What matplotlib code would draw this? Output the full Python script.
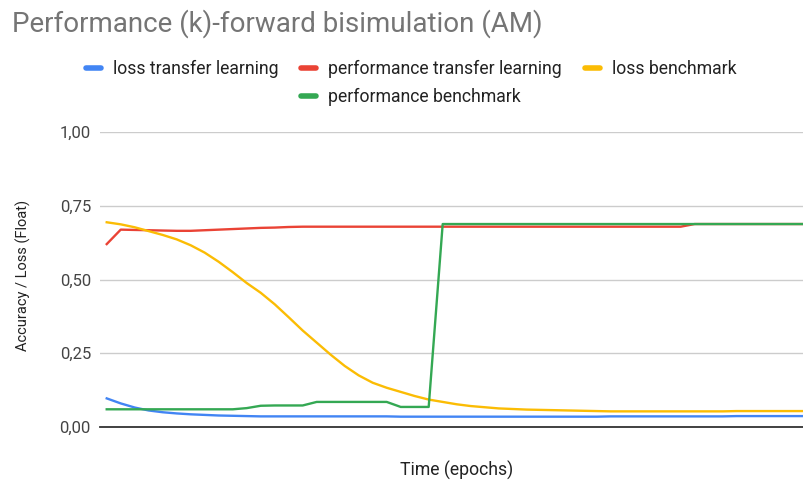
import matplotlib.pyplot as plt
from matplotlib.lines import Line2D
from matplotlib.ticker import FuncFormatter

plt.rcParams["font.family"] = ["Roboto", "DejaVu Sans"]

# values, one per epoch
loss_transfer = [0.097, 0.080, 0.066, 0.056, 0.050, 0.046, 0.043, 0.041, 0.039, 0.038,
                 0.037, 0.036, 0.036, 0.036, 0.036, 0.036, 0.036, 0.036, 0.036, 0.036,
                 0.036, 0.035, 0.035, 0.035, 0.035, 0.035, 0.035, 0.035, 0.035, 0.035,
                 0.035, 0.035, 0.035, 0.035, 0.035, 0.035, 0.036, 0.036, 0.036, 0.036,
                 0.036, 0.036, 0.036, 0.036, 0.036, 0.037, 0.037, 0.037, 0.037, 0.037,
                 0.037]
perf_transfer = [0.620, 0.669, 0.668, 0.667, 0.666, 0.665, 0.665, 0.667, 0.669, 0.671,
                 0.673, 0.675, 0.676, 0.678, 0.679, 0.679, 0.679, 0.679, 0.679, 0.679,
                 0.679, 0.679, 0.679, 0.679, 0.679, 0.679, 0.679, 0.679, 0.679, 0.679,
                 0.679, 0.679, 0.679, 0.679, 0.679, 0.679, 0.679, 0.679, 0.679, 0.679,
                 0.679, 0.679, 0.688, 0.688, 0.688, 0.688, 0.688, 0.688, 0.688, 0.688,
                 0.688]
loss_bench = [0.694, 0.687, 0.677, 0.664, 0.651, 0.636, 0.616, 0.591, 0.560, 0.525,
              0.488, 0.455, 0.416, 0.372, 0.327, 0.286, 0.245, 0.207, 0.175, 0.150,
              0.133, 0.119, 0.105, 0.093, 0.085, 0.077, 0.071, 0.067, 0.063, 0.061,
              0.059, 0.058, 0.057, 0.056, 0.055, 0.054, 0.053, 0.053, 0.053, 0.053,
              0.053, 0.053, 0.053, 0.053, 0.053, 0.054, 0.054, 0.054, 0.054, 0.054,
              0.054]
perf_bench = [0.060, 0.060, 0.060, 0.060, 0.060, 0.060, 0.060, 0.060, 0.060, 0.060,
              0.064, 0.072, 0.073, 0.073, 0.073, 0.085, 0.085, 0.085, 0.085, 0.085,
              0.085, 0.068, 0.068, 0.068, 0.688, 0.688, 0.688, 0.688, 0.688, 0.688,
              0.688, 0.688, 0.688, 0.688, 0.688, 0.688, 0.688, 0.688, 0.688, 0.688,
              0.688, 0.688, 0.688, 0.688, 0.688, 0.688, 0.688, 0.688, 0.688, 0.688,
              0.688]
epochs = list(range(len(loss_transfer)))

series = [
    ("loss transfer learning", loss_transfer, "#4285F4"),
    ("performance transfer learning", perf_transfer, "#EA4335"),
    ("loss benchmark", loss_bench, "#FBBC04"),
    ("performance benchmark", perf_bench, "#34A853"),
]

fig = plt.figure(figsize=(8.04, 4.87), dpi=100)
ax = fig.add_axes([100 / 804, 60 / 487, 704 / 804, 295 / 487])

for name, vals, col in series:
    ax.plot(epochs, vals, color=col, linewidth=1.7, label=name, solid_joinstyle="round")

ax.set_xlim(-0.48, 49.81)
ax.set_ylim(0, 1)
ax.set_yticks([0, 0.25, 0.5, 0.75, 1.0])
ax.yaxis.set_major_formatter(FuncFormatter(lambda v, p: f"{v:.2f}".replace(".", ",")))
ax.set_xticks([])
ax.grid(axis="y", color="#cccccc", linewidth=1)
ax.set_axisbelow(True)
for s in ["top", "right", "left"]:
    ax.spines[s].set_visible(False)
ax.spines["bottom"].set_color("#333333")
ax.spines["bottom"].set_linewidth(1.3)
ax.tick_params(axis="y", length=0, pad=6.5, labelsize=12, labelcolor="#444444")

ax.set_ylabel("Accuracy / Loss (Float)", fontsize=10.5, color="#222222")
ax.yaxis.set_label_coords((23 - 100) / 704, (427 - 275) / 295)
ax.yaxis.label.set_va("center")
ax.set_xlabel("Time (epochs)", fontsize=12.7, color="#222222")
ax.xaxis.set_label_coords((457 - 100) / 704, (427 - 470) / 295)
ax.xaxis.label.set_va("center")

fig.text(12 / 804, 1 - 24 / 487, "Performance (k)-forward bisimulation (AM)",
         fontsize=20, color="#757575", va="center", ha="left")

# legend laid out as a 3-column grid, 4th item wraps under the 2nd column
handles = [Line2D([], [], color=c, linewidth=4, solid_capstyle="round") for _, _, c in series]
names = [n for n, _, _ in series]
blank = Line2D([], [], linestyle="none")
fig.legend([handles[0], blank, handles[1], handles[3], handles[2], blank],
           [names[0], "", names[1], names[3], names[2], ""],
           loc="upper left", bbox_to_anchor=(86 / 804, 1 - 60 / 487), ncol=3,
           frameon=False, fontsize=12.7, handlelength=0.85, columnspacing=1.3,
           handletextpad=0.68, labelspacing=0.55, borderpad=0, borderaxespad=0,
           labelcolor="#222222")

fig.savefig("out.png", dpi=100)
